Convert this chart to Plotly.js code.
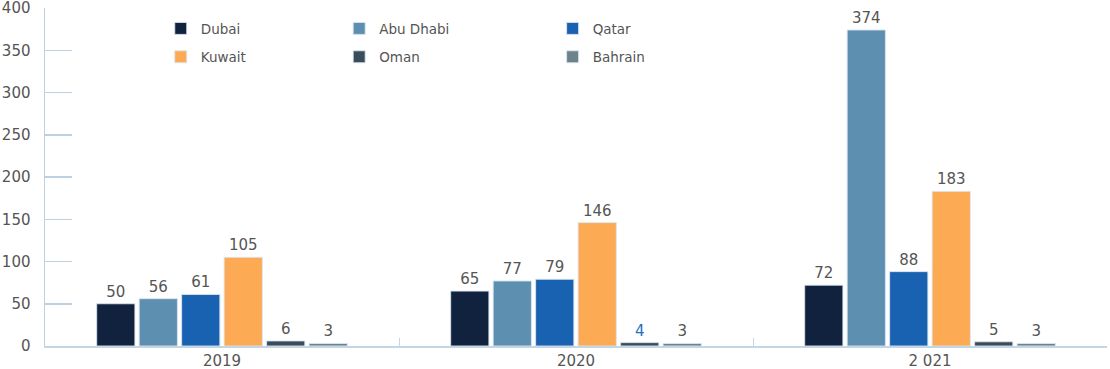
<!DOCTYPE html>
<html><head><meta charset="utf-8">
<script src="https://cdn.plot.ly/plotly-3.0.1.min.js"></script>
<style>html,body{margin:0;padding:0;background:#fff}#chart{width:1110px;height:369px}</style>
</head><body><div id="chart"></div>
<script>
const years = ["2019", "2020", "2 021"];
const seriesNames = ["Dubai", "Abu Dhabi", "Qatar", "Kuwait", "Oman", "Bahrain"];
const dubai = [50, 65, 72];
const abuDhabi = [56, 77, 374];
const qatar = [61, 79, 88];
const kuwait = [105, 146, 183];
const oman = [6, 4, 5];
const bahrain = [3, 3, 3];
const yTicks = [0, 50, 100, 150, 200, 250, 300, 350, 400];

const seriesValues = [dubai, abuDhabi, qatar, kuwait, oman, bahrain];
const colors = ["#11223f", "#5d8fb0", "#1862b1", "#fdaa55", "#3a4b5b", "#6b8389"];
const labelColors = [
  ["#555", "#555", "#555"], ["#555", "#555", "#555"], ["#555", "#555", "#555"],
  ["#555", "#555", "#555"], ["#555", "#1f6fc0", "#555"], ["#555", "#555", "#555"]
];
const legendNames = ["legend", "legend3", "legend5", "legend2", "legend4", "legend6"];
const legendPos = {
  legend: [0.109, 0.939], legend3: [0.277, 0.939], legend5: [0.478, 0.939],
  legend2: [0.109, 0.855], legend4: [0.277, 0.855], legend6: [0.478, 0.855]
};

const traces = seriesNames.map((n, i) => ({
  type: "bar", name: n, x: years, y: seriesValues[i],
  marker: {color: colors[i], line: {color: "rgba(220,230,240,0.9)", width: 1}},
  text: seriesValues[i].map(String), textposition: "outside", cliponaxis: false,
  textfont: {family: "DejaVu Sans", size: 15, color: labelColors[i]},
  legend: legendNames[i], hoverinfo: "skip"
}));

const layout = {
  width: 1110, height: 369,
  margin: {l: 45, r: 3, t: 8, b: 23},
  paper_bgcolor: "#fff", plot_bgcolor: "#fff",
  barmode: "group", bargap: 0.28, bargroupgap: 0.1,
  font: {family: "DejaVu Sans", size: 15, color: "#555"},
  xaxis: {
    type: "category", showgrid: false, showline: true, linecolor: "#c4d5e3", linewidth: 1.5,
    ticks: "inside", tickson: "boundaries", ticklen: 8, tickcolor: "#c4d5e3",
    tickfont: {family: "DejaVu Sans", size: 15, color: "#555"}, zeroline: false, automargin: false
  },
  yaxis: {
    range: [0, 400], tickvals: yTicks, showgrid: false, showline: true,
    linecolor: "#bcd2e3", linewidth: 1.5, ticks: "inside", ticklen: 27, tickcolor: "#bcd2e3",
    tickwidth: 1.5, zeroline: false, automargin: false, ticklabelstandoff: 10,
    ticklabeloverflow: "allow",
    tickfont: {family: "DejaVu Sans", size: 15, color: "#555"}
  },
  showlegend: true
};
Object.keys(legendPos).forEach(k => {
  layout[k] = {x: legendPos[k][0], y: legendPos[k][1], xanchor: "left", yanchor: "middle",
    bgcolor: "rgba(0,0,0,0)", font: {family: "DejaVu Sans", size: 13.5, color: "#555"}};
});
Plotly.newPlot("chart", traces, layout, {displayModeBar: false, staticPlot: true});
</script></body></html>
